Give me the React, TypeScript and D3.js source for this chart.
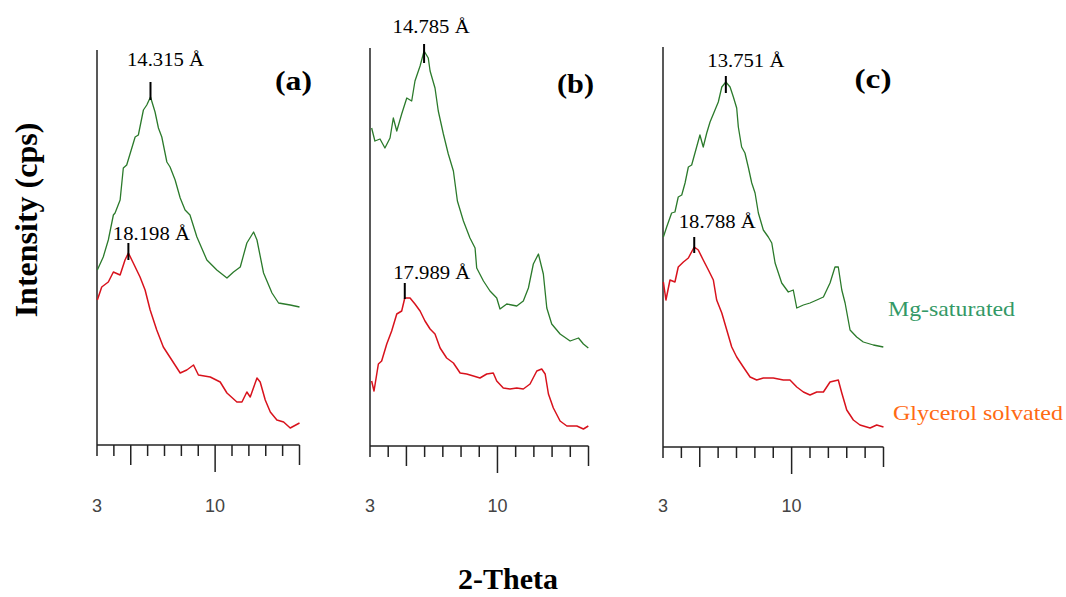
import React, { useEffect, useRef } from 'react';
import * as d3 from 'd3';

const W = 1066;
const H = 597;

// 2-theta axis: one tick per degree, only 3 and 10 are labelled
const thetaDomain = [3, 15];
const thetaTicks = d3.range(3, 16);
const thetaLabels = [3, 10];

const panelNames = ['(a)', '(b)', '(c)'];
const seriesNames = ['Mg-saturated', 'Glycerol solvated'];

// [2-theta, intensity]
const mgA = [
  [3.02, 175], [3.37, 188], [3.67, 205], [3.97, 230], [4.07, 232], [4.37, 245], [4.56, 277], [4.76, 280],
  [5.26, 308], [5.45, 310], [5.75, 335], [5.95, 340], [6.17, 348], [6.44, 333], [6.64, 317], [6.84, 308],
  [7.14, 283], [7.33, 278], [7.63, 265], [7.93, 247], [8.22, 235], [8.51, 230], [8.92, 208], [9.51, 185],
  [10.1, 175], [10.7, 167], [11.09, 173], [11.49, 178], [11.88, 202], [12.28, 213], [12.48, 205],
  [12.87, 172], [13.37, 152], [13.76, 142], [14.45, 140], [15.0, 138],
];
const glyA = [
  [3.02, 145], [3.28, 158], [3.67, 163], [3.97, 173], [4.37, 170], [4.66, 185], [4.86, 192], [5.15, 182],
  [5.55, 168], [5.85, 155], [6.15, 135], [6.54, 115], [6.93, 98], [7.43, 85], [7.93, 72], [8.32, 75],
  [8.72, 80], [9.01, 70], [9.71, 68], [10.3, 63], [10.7, 52], [11.29, 43], [11.59, 43], [11.88, 53],
  [12.08, 48], [12.48, 67], [12.67, 63], [12.97, 45], [13.27, 33], [13.66, 25], [14.06, 23], [14.45, 17],
  [15.0, 22],
];
const mgB = [
  [3.09, 318], [3.27, 305], [3.55, 307], [3.82, 298], [4.1, 308], [4.28, 328], [4.47, 315], [4.74, 332],
  [5.02, 348], [5.29, 345], [5.47, 365], [5.75, 380], [5.97, 395], [6.2, 388], [6.3, 375], [6.57, 358],
  [6.75, 335], [7.03, 312], [7.3, 292], [7.58, 275], [7.8, 245], [8.13, 225], [8.49, 208], [8.77, 198],
  [8.86, 178], [9.23, 165], [9.59, 155], [9.96, 148], [10.14, 137], [10.51, 142], [11.06, 140],
  [11.42, 145], [11.7, 158], [11.97, 182], [12.25, 192], [12.52, 172], [12.71, 138], [12.98, 122],
  [13.44, 112], [13.99, 105], [14.45, 108], [14.72, 102], [14.99, 98],
];
const glyB = [
  [3.09, 65], [3.22, 55], [3.46, 82], [3.64, 85], [3.92, 102], [4.19, 115], [4.47, 132], [4.74, 135],
  [4.91, 148], [5.2, 148], [5.47, 142], [5.75, 135], [6.02, 125], [6.3, 117], [6.57, 112], [6.85, 98],
  [7.21, 88], [7.58, 83], [7.95, 73], [8.31, 72], [8.68, 70], [9.04, 68], [9.41, 72], [9.77, 73],
  [9.96, 65], [10.32, 58], [10.69, 57], [11.06, 58], [11.42, 57], [11.79, 62], [12.16, 75], [12.43, 77],
  [12.62, 72], [12.8, 52], [13.07, 38], [13.44, 25], [13.81, 20], [14.36, 20], [14.72, 17], [14.99, 20],
];
const mgC = [
  [3.02, 210], [3.2, 220], [3.47, 234], [3.65, 235], [3.83, 250], [4.02, 252], [4.2, 264], [4.38, 280],
  [4.56, 282], [4.83, 300], [5.01, 312], [5.19, 300], [5.38, 314], [5.56, 325], [5.83, 337], [6.01, 345],
  [6.2, 360], [6.42, 365], [6.65, 360], [6.83, 350], [7.01, 339], [7.1, 320], [7.28, 300], [7.46, 294],
  [7.64, 280], [7.83, 264], [8.01, 254], [8.19, 234], [8.46, 217], [8.73, 210], [8.92, 204], [9.1, 184],
  [9.46, 164], [9.82, 155], [10.09, 157], [10.28, 139], [10.64, 142], [11.0, 144], [11.37, 147],
  [11.73, 150], [12.09, 164], [12.36, 180], [12.54, 180], [12.73, 157], [12.91, 144], [13.18, 117],
  [13.54, 110], [13.9, 105], [14.45, 102], [14.99, 100],
];
const glyC = [
  [3.02, 165], [3.16, 147], [3.38, 167], [3.65, 165], [3.83, 180], [4.11, 185], [4.38, 189], [4.7, 200],
  [4.92, 197], [5.19, 187], [5.47, 177], [5.74, 167], [5.92, 147], [6.2, 134], [6.47, 117], [6.74, 100],
  [7.01, 90], [7.37, 80], [7.74, 70], [8.1, 67], [8.46, 69], [9.0, 69], [9.55, 67], [9.91, 67],
  [10.28, 60], [10.64, 55], [11.0, 52], [11.37, 55], [11.73, 55], [12.09, 65], [12.54, 67], [12.73, 54],
  [13.0, 37], [13.36, 27], [13.72, 22], [14.27, 19], [14.63, 22], [15.0, 20],
];

// d-spacing labels: [label, 2-theta, intensity at the peak]
const peaksA = [['14.315 Å', 6.17, 348], ['18.198 Å', 4.86, 192]];
const peaksB = [['14.785 Å', 5.97, 395], ['17.989 Å', 4.91, 148]];
const peaksC = [['13.751 Å', 6.42, 365], ['18.788 Å', 4.7, 200]];

const seriesData = [[mgA, glyA], [mgB, glyB], [mgC, glyC]];
const peakData = [peaksA, peaksB, peaksC];

// layout of each panel on the page
const panels = [
  { x0: 97, x1: 299.5, base: 445, top: 50, letterX: 293.5, letterY: 90 },
  { x0: 370, x1: 588.5, base: 446, top: 48, letterX: 575.5, letterY: 93 },
  { x0: 663, x1: 883.5, base: 447, top: 47, letterX: 873, letterY: 88 },
];
// peak marks: label dx, label rise, mark above, mark below
const peakLayout = [
  [[15, 31, 15, 3], [23, 13, 10, 7]],
  [[7, 18, 7, 12], [27, 19, 15, 1]],
  [[20, 15, 6, 11], [23, 19, 10, 6]],
];

const colors = ['#2b7a2b', '#d8121c'];
const serif = '"Liberation Serif", "Times New Roman", serif';

export default function App() {
  const ref = useRef<SVGSVGElement>(null);

  useEffect(() => {
    const svg = d3.select(ref.current);
    svg.selectAll('*').remove();

    panels.forEach((p, i) => {
      const x = d3.scaleLinear().domain(thetaDomain).range([p.x0, p.x1]);
      const y = d3.scaleLinear().domain([0, 400]).range([p.base, p.base - 400]);
      const g = svg.append('g');

      // y axis (no ticks)
      g.append('line')
        .attr('x1', p.x0).attr('x2', p.x0)
        .attr('y1', p.top).attr('y2', p.base)
        .attr('stroke', '#222').attr('stroke-width', 1.5);

      // x axis with minor/medium/long ticks
      g.append('line')
        .attr('x1', p.x0).attr('x2', p.x1)
        .attr('y1', p.base).attr('y2', p.base)
        .attr('stroke', '#222').attr('stroke-width', 1.5);
      g.selectAll('.tick')
        .data(thetaTicks)
        .enter().append('line')
        .attr('x1', (d) => x(d)).attr('x2', (d) => x(d))
        .attr('y1', p.base)
        .attr('y2', (d) => p.base + (d === 10 ? 27 : d % 5 === 0 ? 20 : 11))
        .attr('stroke', '#222').attr('stroke-width', 1.5);
      g.selectAll('.ticklabel')
        .data(thetaLabels)
        .enter().append('text')
        .attr('x', (d) => x(d)).attr('y', 512)
        .attr('text-anchor', 'middle')
        .attr('font-family', '"Liberation Sans", Arial, sans-serif')
        .attr('font-size', 18)
        .attr('fill', '#444')
        .text((d) => d);

      const line = d3.line()
        .x((d: any) => x(d[0]))
        .y((d: any) => y(d[1]));

      seriesData[i].forEach((s, k) => {
        g.append('path')
          .datum(s)
          .attr('d', line as any)
          .attr('fill', 'none')
          .attr('stroke', colors[k])
          .attr('stroke-width', k === 0 ? 1.3 : 1.5)
          .attr('stroke-linejoin', 'round');
      });

      peakData[i].forEach((pk: any, k) => {
        const [dx, rise, up, down] = peakLayout[i][k];
        const px = x(pk[1]);
        const py = y(pk[2]);
        g.append('line')
          .attr('x1', px).attr('x2', px)
          .attr('y1', py - up).attr('y2', py + down)
          .attr('stroke', '#000').attr('stroke-width', 2);
        g.append('text')
          .attr('x', px + dx - 38.5).attr('y', py - rise)
          .attr('textLength', 77)
          .attr('lengthAdjust', 'spacingAndGlyphs')
          .attr('font-family', serif)
          .attr('font-size', 18)
          .attr('fill', '#000')
          .text(pk[0]);
      });

      g.append('text')
        .attr('x', p.letterX - 18.5).attr('y', p.letterY)
        .attr('textLength', 37)
        .attr('lengthAdjust', 'spacingAndGlyphs')
        .attr('font-family', serif)
        .attr('font-weight', 'bold')
        .attr('font-size', 28)
        .text(panelNames[i]);
    });

    // legend, next to panel (c)
    svg.append('text')
      .attr('x', 888).attr('y', 316)
      .attr('textLength', 127).attr('lengthAdjust', 'spacingAndGlyphs')
      .attr('font-family', serif).attr('font-size', 22)
      .attr('fill', '#339966')
      .text(seriesNames[0]);
    svg.append('text')
      .attr('x', 893).attr('y', 420)
      .attr('textLength', 170).attr('lengthAdjust', 'spacingAndGlyphs')
      .attr('font-family', serif).attr('font-size', 22)
      .attr('fill', '#ff6a13')
      .text(seriesNames[1]);

    // axis titles
    svg.append('text')
      .attr('transform', 'translate(37,220) rotate(-90)')
      .attr('text-anchor', 'middle')
      .attr('font-family', serif).attr('font-weight', 'bold').attr('font-size', 32)
      .text('Intensity (cps)');
    svg.append('text')
      .attr('x', 508).attr('y', 589)
      .attr('text-anchor', 'middle')
      .attr('font-family', serif).attr('font-weight', 'bold').attr('font-size', 30)
      .text('2-Theta');
  }, []);

  return (
    <svg
      ref={ref}
      width={W}
      height={H}
      style={{ position: 'absolute', left: 0, top: 0, background: '#fff' }}
    />
  );
}
